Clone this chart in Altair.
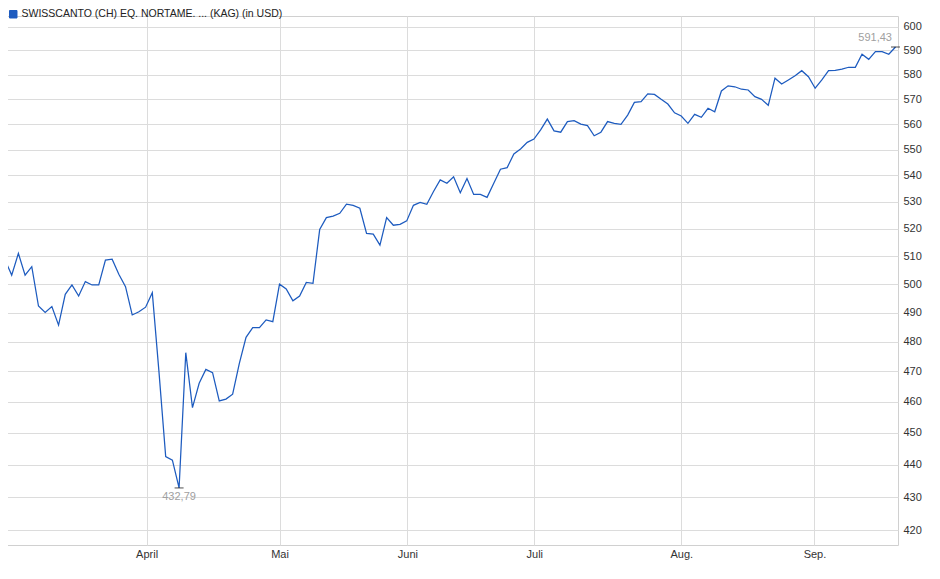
import altair as alt
import pandas as pd

series_name = "SWISSCANTO (CH) EQ. NORTAME. ... (KAG) (in USD)"

# one value per trading day (Mar .. Sep)
values = [
    508.6, 503.2, 511.0, 503.2, 506.2, 492.3, 490.1, 492.1, 485.7, 496.4,
    499.7, 495.8, 500.9, 499.7, 499.7, 508.6, 508.9, 503.5, 499.1, 489.2,
    490.3, 491.9, 497.0, 469.8, 442.5, 441.4, 432.79, 476.3, 458.1, 466.1,
    470.7, 469.6, 460.3, 460.9, 462.5, 472.7, 481.5, 484.8, 484.8, 487.5,
    486.9, 500.0, 498.3, 494.1, 495.8, 500.6, 500.3, 519.7, 524.1, 524.7,
    525.7, 529.1, 528.7, 527.6, 518.3, 518.0, 514.0, 524.1, 521.3, 521.6,
    522.9, 528.7, 529.8, 529.1, 533.9, 538.3, 537.0, 539.5, 533.4, 538.8,
    532.8, 532.8, 531.7, 537.0, 542.4, 543.0, 548.3, 550.2, 552.8, 554.1,
    557.7, 562.0, 557.3, 556.8, 561.0, 561.4, 560.0, 559.4, 555.4, 556.8,
    561.0, 560.3, 559.9, 563.6, 568.7, 569.0, 572.1, 571.9, 569.9, 568.0,
    564.5, 563.2, 560.3, 563.9, 562.7, 566.3, 564.9, 573.3, 575.4, 575.0,
    574.0, 573.7, 571.0, 569.9, 567.5, 578.5, 576.1, 577.8, 579.5, 581.6,
    579.1, 574.4, 577.8, 581.6, 581.7, 582.2, 583.0, 583.0, 588.4, 586.3,
    589.5, 589.5, 588.4, 591.43,
]

month_pos = [0, 21.15, 41, 60.1, 79.05, 101, 120.9]
month_labels = ["", "April", "Mai", "Juni", "Juli", "Aug.", "Sep."]
y_ticks = list(range(420, 601, 10))

df = pd.DataFrame({"i": list(range(len(values))), "v": values, "s": series_name})
i_min = values.index(min(values))
i_max = values.index(max(values))
ext = pd.DataFrame({
    "i": [i_min, i_max],
    "v": [values[i_min], values[i_max]],
    "pos": ["min", "max"],
})

FONT = "Liberation Sans"
BLUE = "#1d5bbf"
GRID = "#dcdcdc"

x_scale = alt.Scale(domain=[-0.2987, 133.374], nice=False, zero=False)
y_scale = alt.Scale(type="log", domain=[415.65, 604.56], nice=False, zero=False)

label_expr = (
    "[" + ",".join("'%s'" % l for l in month_labels) + "]"
    + "[indexof([" + ",".join(str(p) for p in month_pos) + "], datum.value)]"
)

x_axis = alt.Axis(
    values=month_pos, labelExpr=label_expr, grid=True, gridColor=GRID,
    domain=False, ticks=False, labelPadding=3, labelFontSize=11,
    labelFont=FONT, labelColor="#333333", title=None, labelOverlap=False,
    labelFlush=False,
)
y_axis = alt.Axis(
    orient="right", values=y_ticks, format="d", grid=True, gridColor=GRID,
    domain=False, ticks=False, labelPadding=5, labelFontSize=11,
    labelFont=FONT, labelColor="#333333", title=None, labelOverlap=False,
)

line = alt.Chart(df).mark_line(strokeWidth=1.25, clip=True).encode(
    x=alt.X("i:Q", scale=x_scale, axis=x_axis),
    y=alt.Y("v:Q", scale=y_scale, axis=y_axis),
    color=alt.Color(
        "s:N",
        scale=alt.Scale(domain=[series_name], range=[BLUE]),
        legend=alt.Legend(
            title=None, orient="none", legendX=5, legendY=-7,
            symbolType="square", symbolSize=56, symbolFillColor=BLUE,
            symbolStrokeColor="#0b2e6e", symbolStrokeWidth=1,
            labelFontSize=10.5, labelFont=FONT, labelColor="#222222",
            labelLimit=0, padding=0, labelOffset=3,
        ),
    ),
)

ticks = alt.Chart(ext).mark_tick(
    orient="horizontal", size=9, thickness=1, color="black"
).encode(x=alt.X("i:Q", scale=x_scale), y=alt.Y("v:Q", scale=y_scale))

lbl = "replace(format(datum.v, '.2f'), '.', ',')"
min_text = alt.Chart(ext).transform_filter("datum.pos == 'min'").transform_calculate(
    lbl=lbl
).mark_text(
    dy=9, align="center", baseline="middle", fontSize=11, font=FONT, color="#a0a0a0"
).encode(x=alt.X("i:Q", scale=x_scale), y=alt.Y("v:Q", scale=y_scale), text="lbl:N")

max_text = alt.Chart(ext).transform_filter("datum.pos == 'max'").transform_calculate(
    lbl=lbl
).mark_text(
    dy=-9, dx=-3.5, align="right", baseline="middle", fontSize=11, font=FONT,
    color="#a0a0a0"
).encode(x=alt.X("i:Q", scale=x_scale), y=alt.Y("v:Q", scale=y_scale), text="lbl:N")

chart = alt.layer(line, ticks, min_text, max_text).properties(
    width=895, height=529,
    autosize=alt.AutoSizeParams(type="none"),
    padding={"left": -5, "top": 8, "right": 25, "bottom": 16},
    background="white",
).configure_view(stroke="#d0d0d0", strokeWidth=1)

chart.save("out.html", embed_options={"renderer": "svg", "actions": False})
